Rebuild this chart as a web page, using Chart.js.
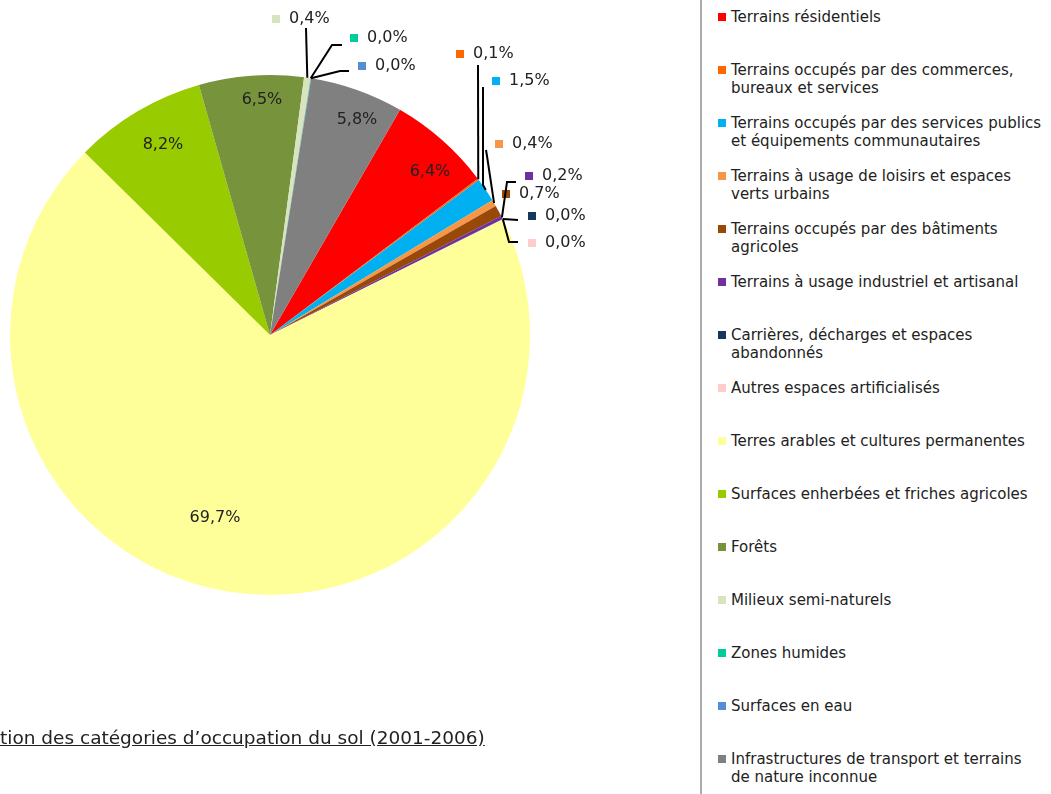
<!DOCTYPE html>
<html>
<head>
<meta charset="utf-8">
<script src="https://cdn.jsdelivr.net/npm/chart.js@4/dist/chart.umd.min.js"></script>
<style>
  html, body { margin: 0; padding: 0; background: #fff; }
  body { width: 1051px; height: 794px; overflow: hidden; position: relative; font-family: "DejaVu Sans", Verdana, sans-serif; color: #222; }
  #wrap { position: absolute; left: 0; top: 0; width: 700px; height: 794px; }
  #legend { position: absolute; left: 700px; top: 0; width: 360px; height: 794px; border-left: 2px solid #ababab; }
  .item { position: absolute; left: 16px; font-size: 15px; line-height: 18px; white-space: nowrap; }
  .item .sw { position: absolute; left: 0; top: 5px; width: 8px; height: 8px; }
  .item .tx { position: absolute; left: 13px; top: 0; }
  #title { position: absolute; left: 0; top: 727px; font-size: 18.5px; line-height: 22px; text-decoration: underline; white-space: nowrap; }
</style>
</head>
<body>
<div id="wrap"><canvas id="pie"></canvas></div>
<div id="legend"></div>
<div id="title">tion des catégories d’occupation du sol (2001-2006)</div>
<script>
// catégories (ordre de la légende)
const categories = [
  'Terrains résidentiels',
  ['Terrains occupés par des commerces,', 'bureaux et services'],
  ['Terrains occupés par des services publics', 'et équipements communautaires'],
  ['Terrains à usage de loisirs et espaces', 'verts urbains'],
  ['Terrains occupés par des bâtiments', 'agricoles'],
  'Terrains à usage industriel et artisanal',
  ['Carrières, décharges et espaces', 'abandonnés'],
  'Autres espaces artificialisés',
  'Terres arables et cultures permanentes',
  'Surfaces enherbées et friches agricoles',
  'Forêts',
  'Milieux semi-naturels',
  'Zones humides',
  'Surfaces en eau',
  ['Infrastructures de transport et terrains', 'de nature inconnue']
];

// parts en % (les 0,0% sont des valeurs très faibles)
const shares = [6.4, 0.1, 1.5, 0.4, 0.7, 0.2, 0.02, 0.02, 69.7, 8.2, 6.5, 0.4, 0.02, 0.02, 5.8];

const colors = [
  '#FF0000', '#FF6600', '#00B0F0', '#F79646', '#984807', '#7030A0', '#17375E', '#FFCCCC',
  '#FFFF99', '#99CC00', '#77933C', '#D7E4BD', '#00CC99', '#558ED5', '#808080'
];

// placement des étiquettes, relatif au centre du camembert
// in: centre du texte ; out: coin gauche de la pastille + polyligne du trait de rappel
const labelLayout = {
  0:  { in: [160, -163] },
  1:  { out: [186, -281], lead: [[208, -270]] },
  2:  { out: [222, -254], lead: [[213, -248], [213, -150]] },
  3:  { out: [225, -191], lead: [[216, -185], [217, -179]] },
  4:  { out: [232, -141] },
  5:  { out: [255, -159], lead: [[246, -153], [237, -153]] },
  6:  { out: [258, -119], lead: [[248, -115]] },
  7:  { out: [258, -92],  lead: [[248, -93], [239, -93]] },
  8:  { in: [-55, 183] },
  9:  { in: [-107, -190] },
  10: { in: [-8, -235] },
  11: { out: [2, -316],  lead: [[36, -307]] },
  12: { out: [80, -297], lead: [[72, -290], [62, -290]] },
  13: { out: [88, -269], lead: [[79, -264], [70, -264]] },
  14: { in: [87, -215] }
};

const fmt = v => v.toFixed(1).replace('.', ',') + '%';

const labelPlugin = {
  id: 'pieLabels',
  afterDatasetsDraw(chart) {
    const ctx = chart.ctx;
    const meta = chart.getDatasetMeta(0);
    const data = chart.data.datasets[0].data;
    const bg = chart.data.datasets[0].backgroundColor;
    ctx.save();
    ctx.font = '16px "DejaVu Sans", Verdana, sans-serif';
    ctx.textBaseline = 'middle';
    meta.data.forEach((arc, i) => {
      const lay = labelLayout[i];
      if (!lay) return;
      const cx = arc.x, cy = arc.y;
      const txt = fmt(data[i]);
      if (lay.in) {
        ctx.fillStyle = '#222';
        ctx.textAlign = 'center';
        ctx.fillText(txt, cx + lay.in[0], cy + lay.in[1]);
        return;
      }
      const mid = (arc.startAngle + arc.endAngle) / 2;
      const ax = cx + Math.cos(mid) * arc.outerRadius;
      const ay = cy + Math.sin(mid) * arc.outerRadius;
      if (lay.lead) {
        ctx.strokeStyle = '#000';
        ctx.lineWidth = 2;
        ctx.beginPath();
        lay.lead.forEach((p, k) => {
          if (k === 0) ctx.moveTo(cx + p[0], cy + p[1]);
          else ctx.lineTo(cx + p[0], cy + p[1]);
        });
        ctx.lineTo(ax, ay);
        ctx.stroke();
      }
      const lx = cx + lay.out[0], ly = cy + lay.out[1];
      ctx.fillStyle = bg[i];
      ctx.fillRect(lx, ly - 4, 8, 8);
      ctx.fillStyle = '#222';
      ctx.textAlign = 'left';
      ctx.fillText(txt, lx + 17, ly);
    });
    ctx.restore();
  }
};

const chart = new Chart(document.getElementById('pie'), {
  type: 'pie',
  data: {
    labels: categories,
    datasets: [{
      data: shares,
      backgroundColor: colors,
      borderWidth: 0
    }]
  },
  options: {
    responsive: true,
    maintainAspectRatio: false,
    animation: false,
    rotation: 30,
    layout: { padding: { left: 10, top: 75, right: 170, bottom: 199 } },
    plugins: {
      legend: { display: false },
      tooltip: { enabled: false }
    }
  },
  plugins: [labelPlugin]
});

// légende à droite
const legendBox = document.getElementById('legend');
chart.data.labels.forEach((lab, i) => {
  const item = document.createElement('div');
  item.className = 'item';
  item.style.top = (8 + 53 * i) + 'px';
  const sw = document.createElement('div');
  sw.className = 'sw';
  sw.style.background = chart.data.datasets[0].backgroundColor[i];
  const tx = document.createElement('div');
  tx.className = 'tx';
  tx.innerHTML = (Array.isArray(lab) ? lab : [lab]).join('<br>');
  item.appendChild(sw);
  item.appendChild(tx);
  legendBox.appendChild(item);
});
</script>
</body>
</html>
